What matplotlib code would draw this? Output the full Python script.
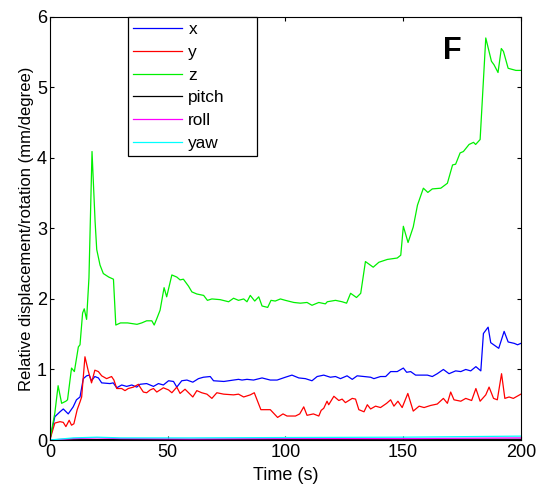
import matplotlib.pyplot as plt

plt.rcParams['font.family'] = ['Liberation Sans', 'DejaVu Sans']

# --- Data ---
t_x = [0, 2.1, 4.3, 5.7, 7.8, 9.9, 11.3, 12.8, 14.2, 15.6, 16.7, 17.7, 19.1, 20.6, 22, 25.5, 26.9,
       28.4, 30.5, 32.6, 34.8, 36.9, 38.3, 41.1, 44, 46.1, 48.2, 50.4, 52.5, 53.9, 56, 58.2, 60.7,
       63.1, 65.2, 68.1, 69.5, 73.9, 78, 80.1, 81.6, 83.7, 86.5, 90.1, 93.6, 96.5, 100, 102.8,
       105.7, 108.5, 111.3, 113.5, 116.3, 119.1, 121.3, 123.4, 126.2, 128.4, 130.5, 133.4, 136.2,
       137.6, 140.4, 142.6, 144.7, 147.5, 150.1, 151.5, 153.2, 155.3, 157.4, 160.3, 162.4, 164.5,
       167.1, 169.5, 172.3, 174.5, 176.6, 178.7, 180.9, 183, 184.1, 186.1, 187.2, 190.6, 192.9,
       194.6, 197.2, 198.6, 200]
x = [0, 0.33, 0.4, 0.44, 0.37, 0.47, 0.57, 0.61, 0.87, 0.91, 0.92, 0.84, 0.9, 0.88, 0.81, 0.8, 0.81,
     0.74, 0.78, 0.76, 0.78, 0.75, 0.79, 0.8, 0.76, 0.8, 0.78, 0.84, 0.83, 0.75, 0.84, 0.85, 0.82,
     0.87, 0.89, 0.9, 0.84, 0.83, 0.85, 0.86, 0.85, 0.86, 0.85, 0.88, 0.85, 0.85, 0.89, 0.92,
     0.88, 0.87, 0.84, 0.9, 0.92, 0.89, 0.9, 0.87, 0.91, 0.86, 0.91, 0.9, 0.89,
     0.87, 0.9, 0.9, 0.97, 0.97, 1.02, 0.96, 0.97, 0.92, 0.92, 0.92, 0.9, 0.94,
     1.0, 0.94, 0.98, 0.97, 1.0, 0.98, 1.04, 0.98, 1.51, 1.6, 1.38, 1.3, 1.54,
     1.39, 1.37, 1.35, 1.37]

t_y = [0, 2.1, 4.3, 5.7, 6.8, 8.2, 9.2, 10.2, 11.6, 12.8, 13.5, 14.9, 16.3, 17.7, 19.1, 20.6, 22,
       24.1, 26.2, 27.2, 28.4, 30.5, 31.9, 33.3, 35.5, 37.6, 38.3, 39.7, 41.1, 42.6, 44, 45.4,
       46.8, 48.2, 50.4, 51.8, 53.9, 55.3, 57.4, 60.7, 62.4, 64.5, 66.7, 68.8, 70.9, 73.8, 78,
       80.1, 82.3, 85.1, 86.8, 89.6, 93.6, 96.7, 99, 100.7, 104.3, 106.1, 107.8, 109.2, 111.9,
       114.2, 115.2, 116.3, 117.7, 118.4, 120.6, 122.7, 124.1, 125.5, 128.4, 129.8, 131.2, 133.4,
       134.8, 136.2, 138.3, 140.4, 143, 144.7, 146.1, 147.8, 149.6, 152, 154.3, 156.8, 158.9,
       161.7, 164.5, 167.1, 168.8, 170.2, 171.6, 174.5, 176.6, 179.1, 180.9, 182.7, 185.1, 186.5,
       188.4, 190, 191.8, 193.2, 195, 196.8, 200]
y = [0, 0.24, 0.26, 0.25, 0.19, 0.28, 0.21, 0.23, 0.43, 0.54, 0.61, 1.18, 0.98, 0.81, 0.99, 0.97, 0.91,
     0.87, 0.9, 0.85, 0.73, 0.73, 0.7, 0.73, 0.75, 0.79, 0.75, 0.68, 0.67, 0.71, 0.73, 0.68,
     0.71, 0.74, 0.71, 0.67, 0.75, 0.66, 0.72, 0.61, 0.7, 0.67, 0.65, 0.59, 0.67, 0.65, 0.64,
     0.65, 0.61, 0.64, 0.67, 0.43, 0.43, 0.32, 0.37, 0.34, 0.34, 0.37, 0.47, 0.35, 0.37,
     0.34, 0.42, 0.45, 0.55, 0.5, 0.62, 0.56, 0.58, 0.53, 0.59, 0.58, 0.43, 0.4,
     0.5, 0.44, 0.48, 0.46, 0.52, 0.57, 0.48, 0.55, 0.46, 0.66, 0.41, 0.48, 0.46,
     0.49, 0.51, 0.59, 0.52, 0.68, 0.57, 0.55, 0.59, 0.56, 0.73, 0.55, 0.64, 0.75,
     0.59, 0.57, 0.94, 0.59, 0.61, 0.59, 0.65]

t_z = [0, 2.1, 3.5, 5.0, 6.8, 7.5, 9.2, 10.4, 12.1, 12.8, 13.9, 14.6, 15.6, 16.6, 17.9, 19.2, 19.9,
       21.3, 22.7, 25, 27, 28, 30, 33, 35, 37, 39, 41.1, 43.3, 44.3, 45.4, 46.8, 48.5, 49.6, 51.8,
       53.9, 55.3, 56.7, 58.9, 60.3, 62.4, 65.3, 66.9, 68.8, 72.3, 75.9, 78, 80.1, 82.3, 83.7,
       85.1, 87, 88.7, 90.1, 92.5, 93.9, 95.7, 97.9, 100, 103.6, 106.4, 109.2, 111.3, 114.2, 117,
       117.8, 121.3, 124.1, 126, 127.7, 130.2, 132, 134, 137.3, 139.7, 143.3, 147.5, 149, 150.1,
       152.1, 154.3, 156.1, 158.6, 160.5, 162.4, 166, 168.8, 171, 172.3, 174.2, 175.6, 178, 179.9,
       180.8, 182.7, 185.1, 187.5, 188.6, 190.3, 191.7, 192.6, 194.6, 197.9, 200]
z = [0, 0.38, 0.77, 0.52, 0.55, 0.57, 1.02, 0.97, 1.32, 1.35, 1.80, 1.86, 1.71, 2.3, 4.09, 3.1, 2.7,
     2.48, 2.36, 2.31, 2.28, 1.63, 1.66, 1.66, 1.65, 1.64, 1.66, 1.69, 1.69, 1.63, 1.72, 1.84, 2.16, 2.03, 2.34,
     2.31, 2.27, 2.28, 2.18, 2.1, 2.07, 2.05, 1.98, 2.0, 1.99, 1.96, 2.01, 1.98, 2.0, 1.96,
     2.05, 1.97, 2.03, 1.90, 1.88, 1.98, 1.97, 2.0, 1.98, 1.95, 1.94, 1.95, 1.91, 1.95, 1.93,
     1.96, 1.98, 1.96, 1.94, 2.08, 2.02, 2.08, 2.53, 2.45, 2.52, 2.56, 2.58, 2.62, 3.03,
     2.8, 3.02, 3.33, 3.57, 3.51, 3.56, 3.57, 3.64, 3.9, 3.91, 4.07, 4.09, 4.19, 4.22,
     4.19, 4.26, 5.70, 5.37, 5.32, 5.21, 5.55, 5.51, 5.27, 5.24, 5.24]

t_rot = [0, 10, 20, 30, 60, 100, 150, 200]
pitch = [0, 0.004, 0.005, 0.005, 0.005, 0.008, 0.01, 0.01]
roll = [0, 0.02, 0.03, 0.02, 0.015, 0.02, 0.02, 0.03]
yaw = [0, 0.03, 0.04, 0.03, 0.03, 0.035, 0.04, 0.055]

# --- Plot ---
fig = plt.figure(figsize=(5.42, 4.87), dpi=100)
ax = fig.add_axes([0.092, 0.0965, 0.869, 0.869])

lw = 0.9
ax.plot(t_x, x, color='#0000ff', lw=lw, label='x')
ax.plot(t_y, y, color='#ff0000', lw=lw, label='y')
ax.plot(t_z, z, color='#00f000', lw=lw, label='z')
ax.plot(t_rot, pitch, color='k', lw=lw, label='pitch')
ax.plot(t_rot, roll, color='#ff00ff', lw=lw, label='roll')
ax.plot(t_rot, yaw, color='#00ffff', lw=lw, label='yaw')

ax.set_xlim(0, 200)
ax.set_ylim(0, 6)
ax.set_xticks([0, 50, 100, 150, 200])
ax.set_yticks([0, 1, 2, 3, 4, 5, 6])
ax.tick_params(direction='in', length=3, top=True, right=True, labelsize=13)
ax.tick_params(axis='x', pad=3)
ax.tick_params(axis='y', pad=2)
ax.set_xlabel('Time (s)', fontsize=13, labelpad=4)
ax.set_ylabel('Relative displacement/rotation (mm/degree)', fontsize=12, labelpad=2)

# MATLAB-like legend box, stretched to the width seen in the reference
leg = ax.legend(loc='upper left', bbox_to_anchor=(0.166, 0.0, 0.274, 1.0), mode='expand',
                borderaxespad=0, fontsize=12.4, handlelength=2.85, labelspacing=0.45,
                fancybox=False, framealpha=1, edgecolor='k', borderpad=0.3,
                handletextpad=0.35)
leg.get_frame().set_linewidth(0.9)

ax.text(0.835, 0.955, 'F', transform=ax.transAxes, fontsize=22, fontweight='bold',
        va='top', ha='left')

fig.savefig('out.png', dpi=100)
